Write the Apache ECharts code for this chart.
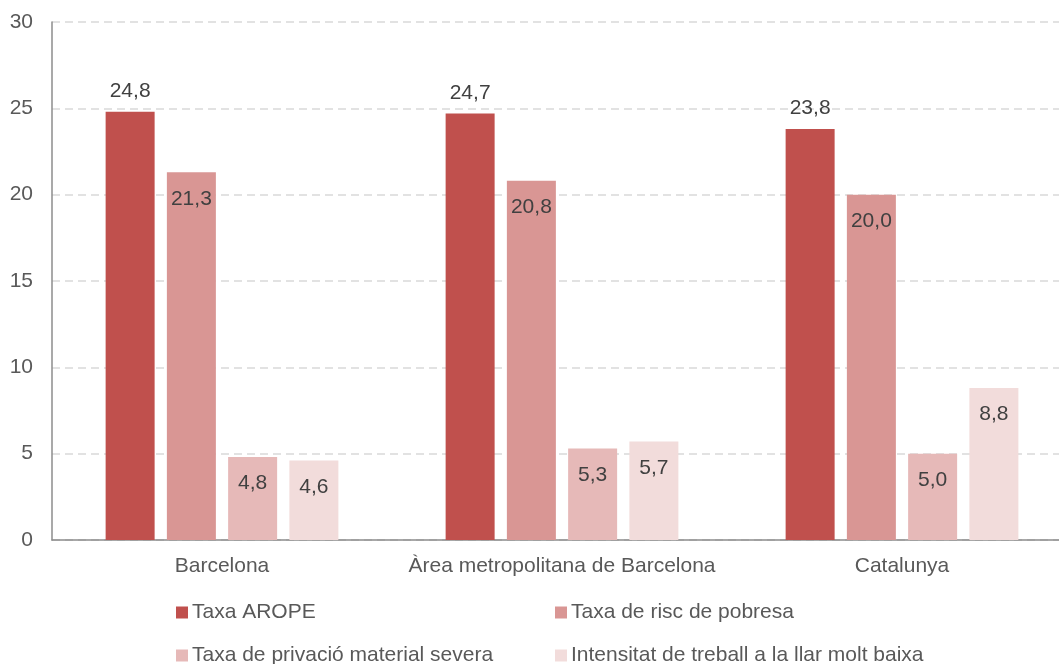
<!DOCTYPE html>
<html>
<head>
<meta charset="utf-8">
<script src="https://cdn.jsdelivr.net/npm/echarts@6/dist/echarts.min.js"></script>
<style>
  html, body { margin: 0; padding: 0; background: #fff; }
  #chart { width: 1059px; height: 664px; }
</style>
</head>
<body>
<div id="chart"></div>
<script>
// dades
const categories = ['Barcelona', 'Àrea metropolitana de Barcelona', 'Catalunya'];
const seriesNames = ['Taxa AROPE', 'Taxa de risc de pobresa', 'Taxa de privació material severa', 'Intensitat de treball a la llar molt baixa'];
const arope = [24.8, 24.7, 23.8];
const riscPobresa = [21.3, 20.8, 20.0];
const privacio = [4.8, 5.3, 5.0];
const intensitat = [4.6, 5.7, 8.8];
const yTicks = [0, 5, 10, 15, 20, 25, 30];

const colors = ['#C0504D', '#D99694', '#E6B9B8', '#F2DCDB'];
const values = [arope, riscPobresa, privacio, intensitat];
const txt = { fontFamily: 'Liberation Sans, Arial, sans-serif', fontSize: 21, color: '#595959' };

const chart = echarts.init(document.getElementById('chart'));

// una llegenda per element, per alinear-les en dues columnes
const legendPos = [[176, 602], [555, 602], [176, 645], [555, 645]];
const legends = seriesNames.map((n, i) => ({
  data: [n],
  left: legendPos[i][0],
  top: legendPos[i][1],
  icon: 'rect',
  itemWidth: 12,
  itemHeight: 12,
  itemGap: 4,
  padding: 0,
  selectedMode: false,
  textStyle: Object.assign({}, txt, { padding: [0, 0, 0, -1] })
}));

chart.setOption({
  animation: false,
  color: colors,
  legend: legends,
  // la zona del gràfic continua una mica més enllà de la vora dreta
  grid: { left: 52, width: 1020, top: 22, bottom: 124, outerBoundsMode: 'none', containLabel: false },
  xAxis: {
    type: 'category',
    data: categories,
    axisTick: { show: false },
    axisLine: { lineStyle: { color: '#8C8C8C', width: 1.5 } },
    axisLabel: Object.assign({}, txt, { margin: 16, interval: 0, hideOverlap: false })
  },
  yAxis: {
    type: 'value',
    min: yTicks[0],
    max: yTicks[yTicks.length - 1],
    interval: 5,
    axisLine: { show: true, lineStyle: { color: '#8C8C8C', width: 1.5 } },
    axisTick: { show: false },
    splitLine: { lineStyle: { color: '#D9D9D9', type: [8, 5], width: 1.5 } },
    axisLabel: Object.assign({}, txt, { margin: 19, formatter: v => String(v) })
  },
  series: values.map((d, i) => ({
    name: seriesNames[i],
    type: 'bar',
    data: d,
    barWidth: 49,
    barGap: '25%',
    itemStyle: { color: colors[i] },
    label: {
      show: true,
      position: i === 0 ? 'top' : 'insideTop',
      distance: i === 0 ? 10 : 16,
      fontFamily: txt.fontFamily,
      fontSize: 21,
      color: '#404040',
      formatter: p => p.value.toFixed(1).replace('.', ',')
    }
  }))
});
</script>
</body>
</html>
